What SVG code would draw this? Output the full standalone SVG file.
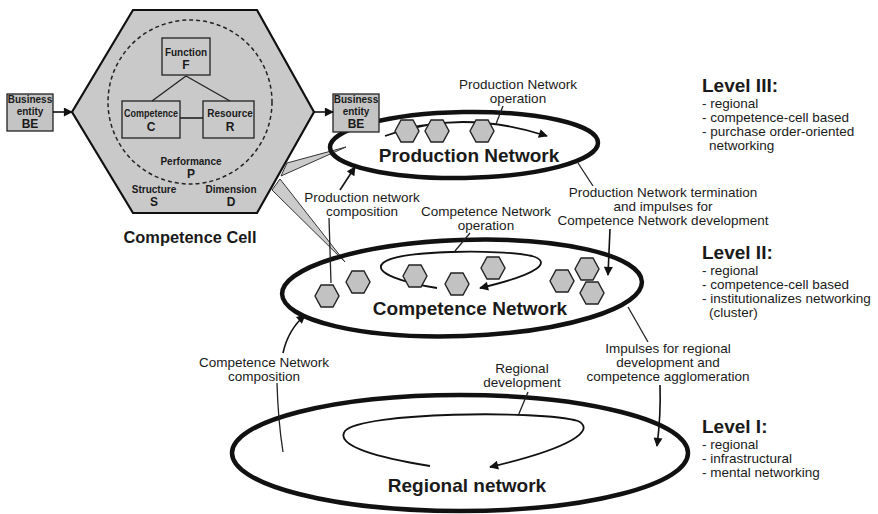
<svg xmlns="http://www.w3.org/2000/svg" width="878" height="514" viewBox="0 0 878 514">
  <defs>
    <style>
      text { font-family: "Liberation Sans", Arial, sans-serif; fill: #1a1a1a; }
      .lbl { font-size: 13.5px; text-anchor: middle; }
      .lvl { font-size: 19px; font-weight: bold; }
      .item { font-size: 13.5px; }
      .net { font-size: 19px; font-weight: bold; text-anchor: middle; }
      .cell { font-size: 10px; font-weight: bold; text-anchor: middle; }
      .cellL { font-size: 12px; font-weight: bold; text-anchor: middle; }
      .ring { fill: none; stroke: #111; stroke-width: 4.5; }
      .loop { fill: none; stroke: #111; stroke-width: 1.8; }
      .lead { fill: none; stroke: #222; stroke-width: 1.3; }
      .arr { fill: none; stroke: #111; stroke-width: 1.6; }
      .box { fill: #c4c4c4; stroke: #222; stroke-width: 1.3; }
      .ibox { fill: none; stroke: #222; stroke-width: 1.3; }
      .wedge { fill: #cbcbcb; stroke: #333; stroke-width: 1; }
      .hx { fill: #c2c2c2; stroke: #222; stroke-width: 1.4; }
    </style>
    <marker id="ah" viewBox="0 0 10 10" refX="9" refY="5" markerWidth="10" markerHeight="9" markerUnits="userSpaceOnUse" orient="auto">
      <path d="M0,0 L10,5 L0,10 z" fill="#111"/>
    </marker>
    <polygon id="cellHex" points="-12,0 -6,-11 6,-11 12,0 6,11 -6,11" class="hx"/>
  </defs>

  <rect width="878" height="514" fill="#ffffff"/>

  <!-- projection wedges from the cell to the networks -->
  <g id="projection">
    <polygon class="wedge" points="287,163 346,147 281,176"/>
    <polygon class="wedge" points="280,179 345,262 272,190"/>
  </g>

  <!-- Competence cell -->
  <g id="competence-cell">
    <polygon points="72,112 133,10 257,10 314,112 257,213 133,213" fill="#c9c9c9" stroke="#111" stroke-width="2.2"/>
    <circle cx="190" cy="102" r="82" fill="none" stroke="#222" stroke-width="1.5" stroke-dasharray="4,3"/>
    <line x1="186" y1="76" x2="152" y2="101" stroke="#222" stroke-width="1.3"/>
    <line x1="186" y1="76" x2="230" y2="101" stroke="#222" stroke-width="1.3"/>
    <line x1="180" y1="118" x2="203" y2="118" stroke="#222" stroke-width="1.6"/>
    <rect class="ibox" x="162" y="38" width="48" height="37"/>
    <rect class="ibox" x="122" y="101" width="58" height="37"/>
    <rect class="ibox" x="203" y="101" width="51" height="37"/>
    <text class="cell" x="186" y="56">Function</text>
    <text class="cellL" x="186" y="69">F</text>
    <text class="cell" x="151" y="117" textLength="54" lengthAdjust="spacingAndGlyphs">Competence</text>
    <text class="cellL" x="151" y="131">C</text>
    <text class="cell" x="230" y="117">Resource</text>
    <text class="cellL" x="230" y="131">R</text>
    <text class="cell" x="191" y="165">Performance</text>
    <text class="cellL" x="191" y="178">P</text>
    <text class="cell" x="154" y="193">Structure</text>
    <text class="cellL" x="154" y="206">S</text>
    <text class="cell" x="231" y="193">Dimension</text>
    <text class="cellL" x="231" y="206">D</text>
    <text x="190" y="243" font-size="16.4" font-weight="bold" text-anchor="middle">Competence Cell</text>
  </g>

  <!-- Business entity, input side -->
  <g id="be-in">
    <rect class="box" x="7" y="94" width="46" height="37"/>
    <text class="cell" x="30" y="103" font-size="9.5">Business</text>
    <text class="cell" x="30" y="115" font-size="9.5">entity</text>
    <text class="cellL" x="30" y="128">BE</text>
  </g>

  <!-- Production network (Level III) -->
  <g id="production-network">
    <ellipse class="ring" cx="464" cy="145" rx="134" ry="33" transform="rotate(-1 464 145)"/>
    <path class="loop" d="M385,136 Q460,108 547,136" marker-end="url(#ah)"/>
    <use href="#cellHex" x="407" y="131"/>
    <use href="#cellHex" x="437" y="131"/>
    <use href="#cellHex" x="482" y="131"/>
    <text class="net" x="469" y="162">Production Network</text>
  </g>

  <!-- Business entity, output side -->
  <g id="be-out">
    <rect class="box" x="333" y="94" width="46" height="38"/>
    <text class="cell" x="356" y="103" font-size="9.5">Business</text>
    <text class="cell" x="356" y="115" font-size="9.5">entity</text>
    <text class="cellL" x="356" y="128">BE</text>
  </g>

  <!-- Competence network (Level II) -->
  <g id="competence-network">
    <ellipse class="ring" cx="462" cy="288" rx="180" ry="48" transform="rotate(-2 462 288)"/>
    <path class="loop" d="M437,288 C405,283 372,273 383,263 C398,250 500,249 532,256 C552,262 540,274 480,288" marker-end="url(#ah)"/>
    <use href="#cellHex" x="327" y="296"/>
    <use href="#cellHex" x="358" y="282"/>
    <use href="#cellHex" x="415" y="276"/>
    <use href="#cellHex" x="457" y="284"/>
    <use href="#cellHex" x="493" y="268"/>
    <use href="#cellHex" x="562" y="281"/>
    <use href="#cellHex" x="587" y="269"/>
    <use href="#cellHex" x="592" y="293"/>
    <text class="net" x="470" y="315">Competence Network</text>
  </g>

  <!-- Regional network (Level I) -->
  <g id="regional-network">
    <ellipse class="ring" cx="460" cy="453" rx="228" ry="58"/>
    <path class="loop" d="M430,466 C380,458 334,446 345,431 C362,412 540,410 578,421 C596,430 572,448 490,467" marker-end="url(#ah)"/>
    <text class="net" x="467" y="492">Regional network</text>
  </g>

  <!-- connectors and leader lines -->
  <g id="connectors">
    <line class="arr" x1="53" y1="112" x2="72" y2="112" marker-end="url(#ah)"/>
    <line class="arr" x1="314" y1="112" x2="333" y2="112" marker-end="url(#ah)"/>
    <line class="lead" x1="503" y1="106" x2="496" y2="124"/>
    <line class="arr" x1="340" y1="190" x2="355" y2="167" marker-end="url(#ah)"/>
    <line class="lead" x1="329" y1="218" x2="331" y2="283"/>
    <line class="lead" x1="578" y1="163" x2="593" y2="186"/>
    <line class="arr" x1="610" y1="229" x2="608" y2="275" marker-end="url(#ah)"/>
    <line class="lead" x1="470" y1="233" x2="455" y2="251"/>
    <line class="lead" x1="628" y1="307" x2="648" y2="342"/>
    <path class="arr" d="M660,385 Q661,415 657,446" marker-end="url(#ah)"/>
    <path class="arr" d="M283,353 Q288,330 305,315" marker-end="url(#ah)"/>
    <path class="lead" d="M277,383 Q278,420 283,452"/>
    <line class="lead" x1="528" y1="392" x2="518" y2="416"/>
  </g>

  <!-- connector labels -->
  <g id="labels">
    <text class="lbl" x="518" y="89">Production Network</text>
    <text class="lbl" x="518" y="103">operation</text>
    <text class="lbl" x="362" y="202">Production network</text>
    <text class="lbl" x="362" y="216">composition</text>
    <text class="lbl" x="486" y="216">Competence Network</text>
    <text class="lbl" x="486" y="230">operation</text>
    <text class="lbl" x="663" y="197">Production Network termination</text>
    <text class="lbl" x="663" y="211">and impulses for</text>
    <text class="lbl" x="663" y="225">Competence Network development</text>
    <text class="lbl" x="668" y="353">Impulses for regional</text>
    <text class="lbl" x="668" y="367">development and</text>
    <text class="lbl" x="668" y="381">competence agglomeration</text>
    <text class="lbl" x="264" y="367">Competence Network</text>
    <text class="lbl" x="264" y="381">composition</text>
    <text class="lbl" x="522" y="373">Regional</text>
    <text class="lbl" x="522" y="387">development</text>
  </g>

  <!-- level descriptions -->
  <g id="level-3">
    <text class="lvl" x="702" y="92">Level III:</text>
    <text class="item" x="702" y="108">- regional</text>
    <text class="item" x="702" y="122">- competence-cell based</text>
    <text class="item" x="702" y="136">- purchase order-oriented</text>
    <text class="item" x="709" y="150">networking</text>
  </g>
  <g id="level-2">
    <text class="lvl" x="702" y="259">Level II:</text>
    <text class="item" x="702" y="275">- regional</text>
    <text class="item" x="702" y="289">- competence-cell based</text>
    <text class="item" x="702" y="303">- institutionalizes networking</text>
    <text class="item" x="709" y="317">(cluster)</text>
  </g>
  <g id="level-1">
    <text class="lvl" x="702" y="433">Level I:</text>
    <text class="item" x="702" y="449">- regional</text>
    <text class="item" x="702" y="463">- infrastructural</text>
    <text class="item" x="702" y="477">- mental networking</text>
  </g>
</svg>
